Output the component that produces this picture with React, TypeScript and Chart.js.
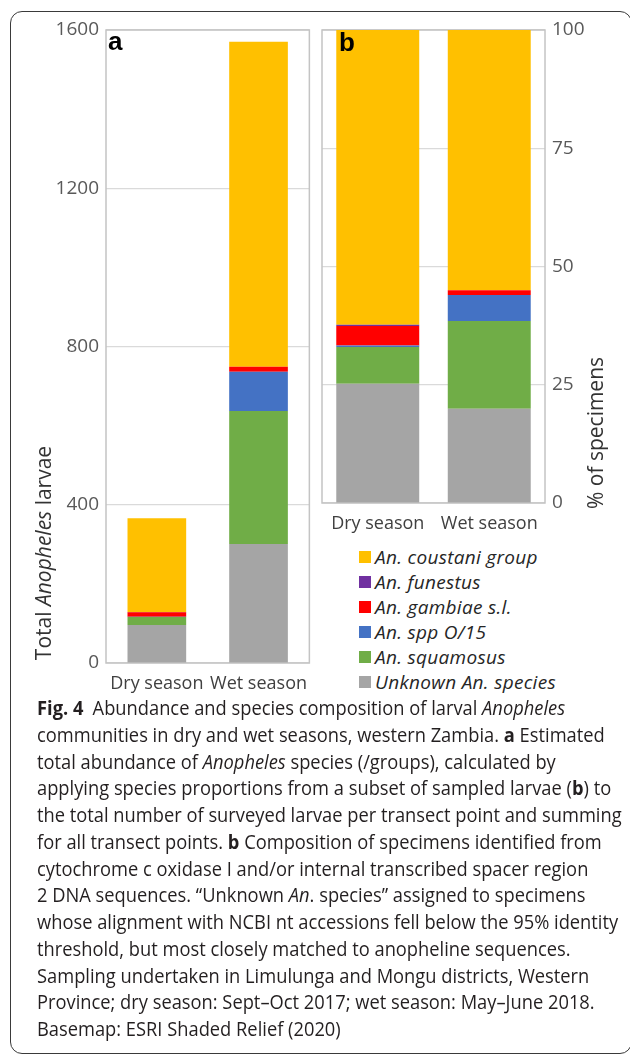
import React, { useEffect, useRef } from "react";
import { Chart, registerables } from "chart.js";

Chart.register(...registerables);

// ---------- data ----------
const seasons = ["Dry season", "Wet season"];
// stacked bottom -> top
const speciesNames = [
  "Unknown An. species",
  "An. squamosus",
  "An. spp O/15",
  "An. gambiae s.l.",
  "An. funestus",
  "An. coustani group",
];
const speciesColors = ["#A5A5A5", "#70AD47", "#4472C4", "#FF0000", "#7030A0", "#FFC000"];

// panel a: estimated totals
const unknownTotal = [96, 301];
const squamosusTotal = [20, 336];
const sppTotal = [1, 99];
const gambiaeTotal = [11, 13];
const funestusTotal = [1, 0];
const coustaniTotal = [237, 821];

// panel b: % of specimens
const unknownPct = [25.2, 19.9];
const squamosusPct = [7.8, 18.6];
const sppPct = [0.3, 5.5];
const gambiaePct = [4.1, 1.0];
const funestusPct = [0.3, 0];
const coustaniPct = [62.3, 55.0];

const totalTicks = [0, 400, 800, 1200, 1600];
const pctTicks = [0, 25, 50, 75, 100];

const totalSeries = [unknownTotal, squamosusTotal, sppTotal, gambiaeTotal, funestusTotal, coustaniTotal];
const pctSeries = [unknownPct, squamosusPct, sppPct, gambiaePct, funestusPct, coustaniPct];

const FONT = "'Open Sans', 'DejaVu Sans', sans-serif";

const boxPlugin = {
  id: "plotBox",
  beforeDatasetsDraw(chart: any) {
    const { ctx, chartArea: a } = chart;
    ctx.save();
    ctx.strokeStyle = "#C4C4C4";
    ctx.lineWidth = 1.5;
    ctx.strokeRect(a.left, a.top, a.right - a.left, a.bottom - a.top);
    ctx.restore();
  },
};

function drawRotatedParts(ctx: any, cx: number, cy: number, parts: { t: string; italic?: boolean }[], size: number, color: string) {
  ctx.save();
  ctx.translate(cx, cy);
  ctx.rotate(-Math.PI / 2);
  ctx.fillStyle = color;
  ctx.textBaseline = "middle";
  ctx.textAlign = "left";
  let total = 0;
  const widths = parts.map((p) => {
    ctx.font = `${p.italic ? "italic " : ""}${size}px ${FONT}`;
    const w = ctx.measureText(p.t).width;
    total += w;
    return w;
  });
  let x = -total / 2;
  parts.forEach((p, i) => {
    ctx.font = `${p.italic ? "italic " : ""}${size}px ${FONT}`;
    ctx.fillText(p.t, x, 0);
    x += widths[i];
  });
  ctx.restore();
}

function makeDatasets(series: number[][], barPct: number) {
  return series.map((d, i) => ({
    label: speciesNames[i],
    data: d,
    backgroundColor: speciesColors[i],
    borderWidth: 0,
    barPercentage: barPct,
    categoryPercentage: 1,
    stack: "s",
  }));
}

const plainTick = (v: any) => String(v);

export default function App() {
  const refA = useRef<HTMLCanvasElement | null>(null);
  const refB = useRef<HTMLCanvasElement | null>(null);

  useEffect(() => {
    const tickFont = { family: FONT, size: 18 };
    const yTickFont = { family: FONT, size: 19 };
    const chartA = new Chart(refA.current as HTMLCanvasElement, {
      type: "bar",
      data: { labels: seasons, datasets: makeDatasets(totalSeries, 0.577) as any },
      options: {
        animation: false,
        responsive: false,
        layout: { padding: { left: 0, right: 4, top: 30, bottom: 0 } },
        plugins: { legend: { display: false }, tooltip: { enabled: false } },
        scales: {
          x: {
            stacked: true,
            grid: { display: false, drawTicks: false },
            border: { display: false },
            ticks: { font: tickFont, color: "#404040", padding: 10 },
            afterFit: (s: any) => { s.height = 37; },
          },
          y: {
            stacked: true,
            min: 0,
            max: 1600,
            grid: { color: "#DADADA", lineWidth: 1.2, drawTicks: false },
            border: { display: false },
            ticks: { font: yTickFont, color: "#595959", padding: 7, callback: plainTick },
            afterBuildTicks: (s: any) => { s.ticks = totalTicks.map((v) => ({ value: v })); },
            afterFit: (s: any) => { s.width = 106; },
          },
        },
      },
      plugins: [
        boxPlugin,
        {
          id: "labelsA",
          afterDraw(chart: any) {
            const ctx = chart.ctx;
            drawRotatedParts(ctx, 45, 553, [{ t: "Total " }, { t: "Anopheles", italic: true }, { t: " larvae" }], 21, "#333333");
            ctx.save();
            ctx.font = `bold 26px 'Liberation Sans', Arial, sans-serif`;
            ctx.fillStyle = "#000";
            ctx.textBaseline = "alphabetic";
            ctx.fillText("a", 108, 50);
            ctx.restore();
          },
        },
      ],
    } as any);

    const chartB = new Chart(refB.current as HTMLCanvasElement, {
      type: "bar",
      data: { labels: seasons, datasets: makeDatasets(pctSeries, 0.744) as any },
      options: {
        animation: false,
        responsive: false,
        layout: { padding: { left: 4, right: 0, top: 30, bottom: 0 } },
        plugins: { legend: { display: false }, tooltip: { enabled: false } },
        scales: {
          x: {
            stacked: true,
            grid: { display: false, drawTicks: false },
            border: { display: false },
            ticks: { font: tickFont, color: "#404040", padding: 10 },
            afterFit: (s: any) => { s.height = 37; },
          },
          y: {
            stacked: true,
            position: "right",
            min: 0,
            max: 100,
            grid: { color: "#DADADA", lineWidth: 1.2, drawTicks: false },
            border: { display: false },
            ticks: { font: yTickFont, color: "#595959", padding: 7, callback: plainTick },
            afterBuildTicks: (s: any) => { s.ticks = pctTicks.map((v) => ({ value: v })); },
            afterFit: (s: any) => { s.width = 85; },
          },
        },
      },
      plugins: [
        boxPlugin,
        {
          id: "labelsB",
          afterDraw(chart: any) {
            const ctx = chart.ctx;
            drawRotatedParts(ctx, 279, 433, [{ t: "% of specimens" }], 21, "#333333");
            ctx.save();
            ctx.font = `bold 26px 'Liberation Sans', Arial, sans-serif`;
            ctx.fillStyle = "#000";
            ctx.textBaseline = "alphabetic";
            ctx.fillText("b", 21, 51);
            ctx.restore();
          },
        },
      ],
    } as any);

    return () => {
      chartA.destroy();
      chartB.destroy();
    };
  }, []);

  const legendOrder = [5, 4, 3, 2, 1, 0];
  const capStyle: React.CSSProperties = { whiteSpace: "nowrap", height: 26.75, lineHeight: "26.75px" };
  const captionLines: React.ReactNode[] = [
    <><b>Fig. 4</b>{"\u2002"}Abundance and species composition of larval <i>Anopheles</i></>,
    <>communities in dry and wet seasons, western Zambia. <b>a</b> Estimated</>,
    <>total abundance of <i>Anopheles</i> species (/groups), calculated by</>,
    <>applying species proportions from a subset of sampled larvae (<b>b</b>) to</>,
    <>the total number of surveyed larvae per transect point and summing</>,
    <>for all transect points. <b>b</b> Composition of specimens identified from</>,
    <>cytochrome c oxidase I and/or internal transcribed spacer region</>,
    <>2 DNA sequences. “Unknown <i>An</i>. species” assigned to specimens</>,
    <>whose alignment with NCBI nt accessions fell below the 95% identity</>,
    <>threshold, but most closely matched to anopheline sequences.</>,
    <>Sampling undertaken in Limulunga and Mongu districts, Western</>,
    <>Province; dry season: Sept–Oct 2017; wet season: May–June 2018.</>,
    <>Basemap: ESRI Shaded Relief (2020)</>,
  ];

  return (
    <div style={{ position: "absolute", left: 0, top: 0, width: 630, height: 1054, overflow: "hidden", background: "#fff" }}>
      <div
        style={{
          position: "absolute",
          left: 10,
          top: 11,
          width: 622,
          height: 1043,
          border: "1px solid #3A3A3A",
          borderRadius: 12,
          boxSizing: "border-box",
        }}
      />
      <canvas ref={refA} width={318} height={700} style={{ position: "absolute", left: 0, top: 0, width: 318, height: 700 }} />
      <canvas ref={refB} width={312} height={540} style={{ position: "absolute", left: 318, top: 0, width: 312, height: 540 }} />
      {legendOrder.map((idx, row) => (
        <div key={idx} style={{ position: "absolute", left: 359, top: 557 + row * 25 - 12, height: 24, display: "flex", alignItems: "center" }}>
          <span style={{ width: 12, height: 12, background: speciesColors[idx], display: "inline-block", marginRight: 4 }} />
          <span style={{ fontFamily: FONT, fontStyle: "italic", fontSize: 19, letterSpacing: 0.3, color: "#262626", whiteSpace: "nowrap", lineHeight: "24px" }}>
            {speciesNames[idx]}
          </span>
        </div>
      ))}
      <div
        style={{
          position: "absolute",
          left: 37,
          top: 695,
          fontFamily: FONT,
          fontSize: 20,
          color: "#231F20",
          transform: "scaleX(0.915)",
          transformOrigin: "0 0",
        }}
      >
        {captionLines.map((l, i) => (
          <div key={i} style={capStyle}>{l}</div>
        ))}
      </div>
    </div>
  );
}
